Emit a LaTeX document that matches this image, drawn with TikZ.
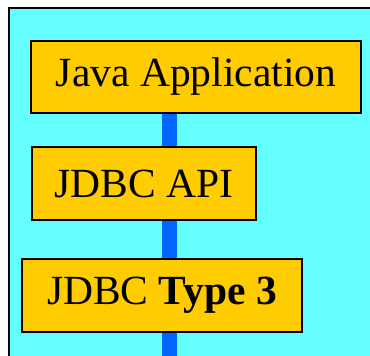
\documentclass[tikz,border=0pt]{standalone}
\usepackage{fontspec}
\setmainfont{Liberation Serif}
\definecolor{panelcyan}{HTML}{66FFFF}
\definecolor{layerorange}{HTML}{FFCC00}
\definecolor{barblue}{HTML}{0066FF}
\tikzset{
  layer/.style={draw=black, line width=1.3pt, fill=layerorange, inner sep=0pt,
    font=\fontsize{41.5}{48}\selectfont},
  bar/.style={draw=barblue, line width=15pt}
}
\begin{document}
\begin{tikzpicture}[x=1pt,y=1pt]
      \useasboundingbox (0,0) rectangle (370,356);
      \clip (0,0) rectangle (370,356);
      \fill[white] (0,0) rectangle (370,356);
      \draw[fill=panelcyan, line width=2pt] (8.5,347.5) rectangle (380,-10);

      \coordinate (bartop) at (169,260);
      \coordinate (barend) at (169,-5);
      \draw[bar] (bartop) -- (barend);

      \node[layer, minimum width=330, minimum height=72] (app)  at (196,279)   {Java Application};
      \node[layer, minimum width=224, minimum height=73] (api)  at (144,172.5) {JDBC API};
      \node[layer, minimum width=280, minimum height=73] (type) at (162,60.5)  {JDBC \textbf{Type 3}};
    \end{tikzpicture}
\end{document}
